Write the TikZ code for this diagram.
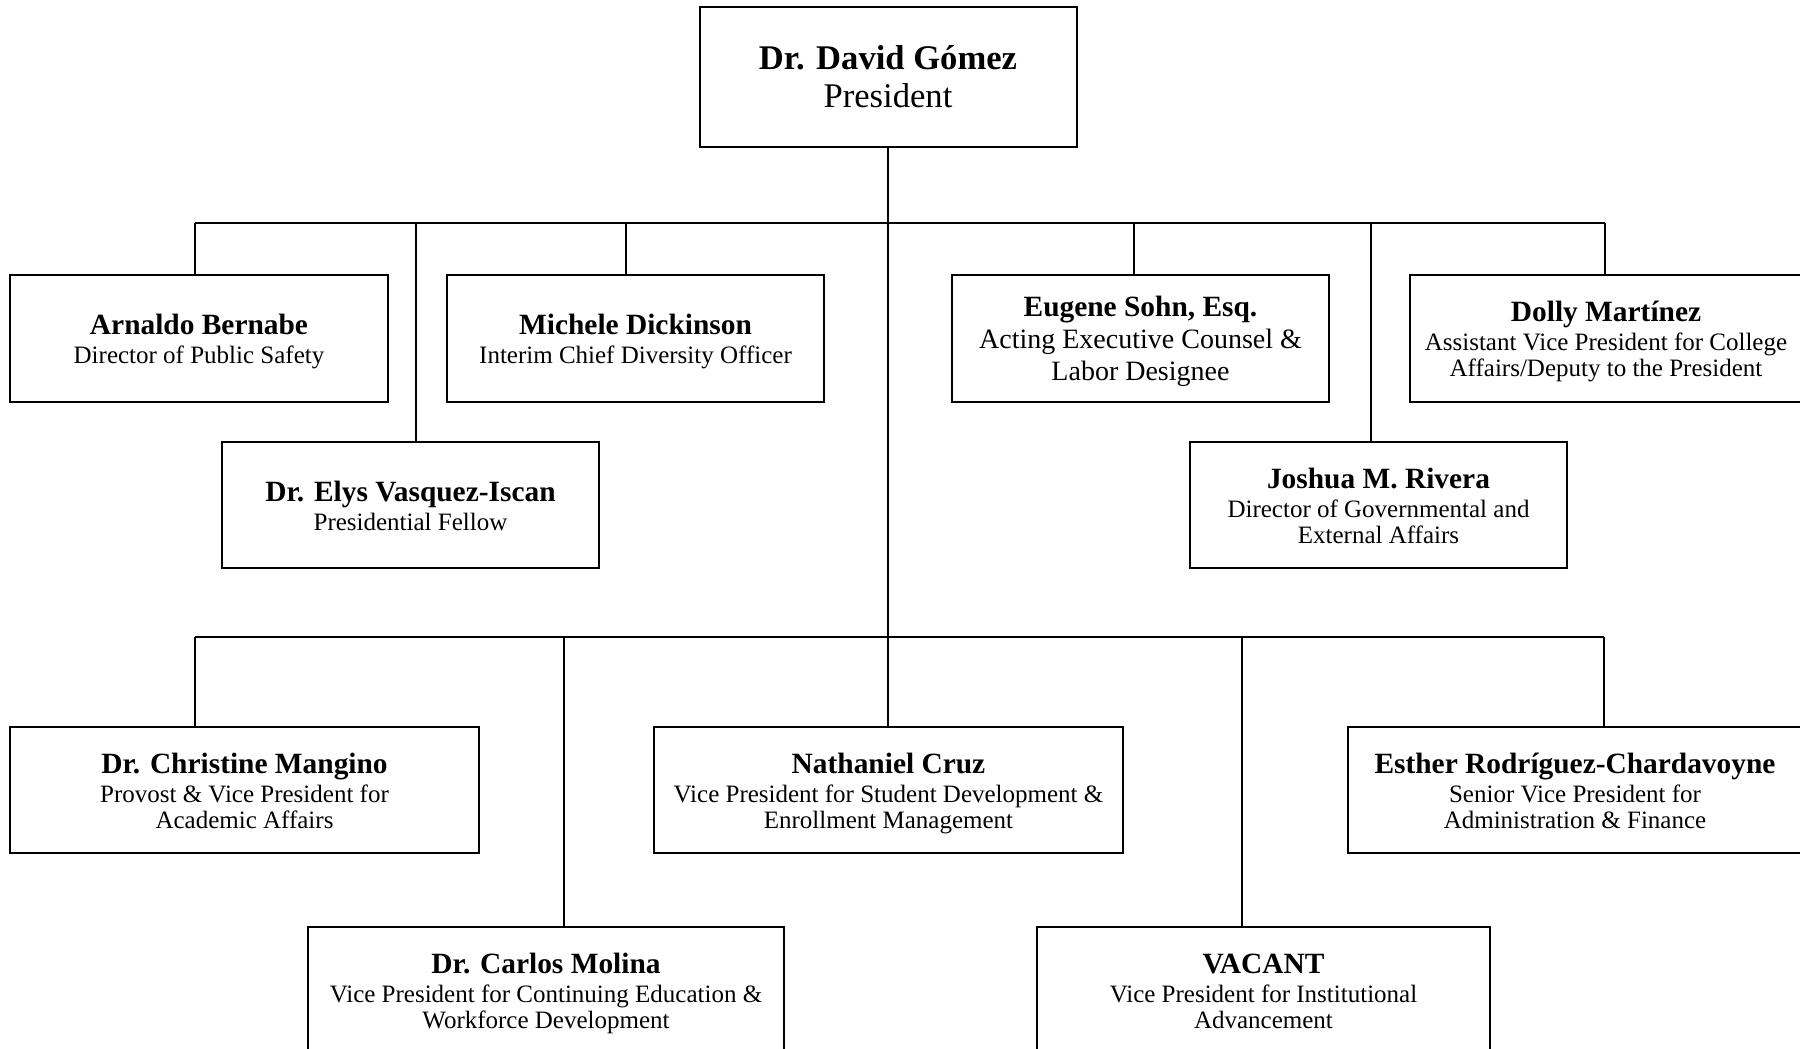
\documentclass[tikz,border=0pt]{standalone}
\usepackage{fontspec}
\setmainfont{Liberation Serif}
\newcommand{\nm}[1]{{\fontsize{14.7}{14.7}\selectfont\bfseries\rule{0pt}{14pt}#1}}
\newcommand{\lst}{\rule[-3.1pt]{0pt}{3.1pt}}
\tikzset{
  box/.style={draw, line width=1pt, rectangle, inner sep=0pt, align=center,
    font=\fontsize{12.5}{13.2}\selectfont},
  bw/.style={minimum width=#1*0.5pt},
  bh/.style={minimum height=#1*0.5pt},
  conn/.style={line width=0.8pt},
  bar/.style={line width=1.1pt},
}
\begin{document}
\begin{tikzpicture}[x=0.5pt,y=-0.5pt]
\useasboundingbox (0,0) rectangle (1800,1049);
\clip (0,0) rectangle (1800,1049);
\fill[white] (0,0) rectangle (1800,1049);

% top
\node[box, bw=377, bh=140, font=\fontsize{17.3}{19}\selectfont] (pres) at (888,77)
  {{\bfseries Dr. David Gómez}\\ President};

% row 1
\node[box, bw=378, bh=127] (arn) at (199,338) {\nm{Arnaldo Bernabe}\\[1.2pt] Director of Public Safety\lst};
\node[box, bw=377, bh=127] (mic) at (635.5,338) {\nm{Michele Dickinson}\\[1.2pt] Interim Chief Diversity Officer\lst};
\node[box, bw=377, bh=127, font=\fontsize{14}{16}\selectfont] (eug) at (1140.5,338) {\nm{Eugene Sohn, Esq.}\\ Acting Executive Counsel \&\\ Labor Designee\lst};
\node[box, bw=392, bh=127] (dol) at (1606,338) {\nm{Dolly Martínez}\\[1.2pt] Assistant Vice President for College\\ Affairs/Deputy to the President\lst};

% row 1b
\node[box, bw=377, bh=126] (ely) at (410.5,505) {\nm{Dr. Elys Vasquez-Iscan}\\[1.2pt] Presidential Fellow\lst};
\node[box, bw=377, bh=126] (jos) at (1378.5,505) {\nm{Joshua M. Rivera}\\[1.2pt] Director of Governmental and\\ External Affairs\lst};

% row 2
\node[box, bw=469, bh=126] (chr) at (244.5,790) {\nm{Dr. Christine Mangino}\\[1.2pt] Provost \& Vice President for\\ Academic Affairs\lst};
\node[box, bw=469, bh=126] (nat) at (888.5,790) {\nm{Nathaniel Cruz}\\[1.2pt] Vice President for Student Development \&\\ Enrollment Management\lst};
\node[box, bw=454, bh=126] (est) at (1575,790) {\nm{Esther Rodríguez-Chardavoyne}\\[1.2pt] Senior Vice President for\\ Administration \& Finance\lst};

% row 3
\node[box, bw=476, bh=126] (car) at (546,990) {\nm{Dr. Carlos Molina}\\[1.2pt] Vice President for Continuing Education \&\\ Workforce Development\lst};
\node[box, bw=453, bh=126] (vac) at (1263.5,990) {\nm{VACANT}\\[1.2pt] Vice President for Institutional\\ Advancement\lst};

% bar coordinates
\coordinate (a1) at (195,223);
\coordinate (a2) at (416,223);
\coordinate (a3) at (626,223);
\coordinate (a5) at (1134,223);
\coordinate (a6) at (1371,223);
\coordinate (a7) at (1605,223);
\coordinate (b1) at (195,637);
\coordinate (b2) at (564,637);
\coordinate (b4) at (1242,637);
\coordinate (b5) at (1604,637);

% bars
\draw[bar] (a1) -- (a7);
\draw[bar] (b1) -- (b5);

% trunk
\draw[conn] (pres.south) -- (nat.north -| pres.south);

% level 1 connectors
\draw[conn] (a1) -- (arn.north -| a1);
\draw[conn] (a2) -- (ely.north -| a2);
\draw[conn] (a3) -- (mic.north -| a3);
\draw[conn] (a5) -- (eug.north -| a5);
\draw[conn] (a6) -- (jos.north -| a6);
\draw[conn] (a7) -- (dol.north -| a7);

% level 2 connectors
\draw[conn] (b1) -- (chr.north -| b1);
\draw[conn] (b2) -- (car.north -| b2);
\draw[conn] (b4) -- (vac.north -| b4);
\draw[conn] (b5) -- (est.north -| b5);
\end{tikzpicture}
\end{document}
